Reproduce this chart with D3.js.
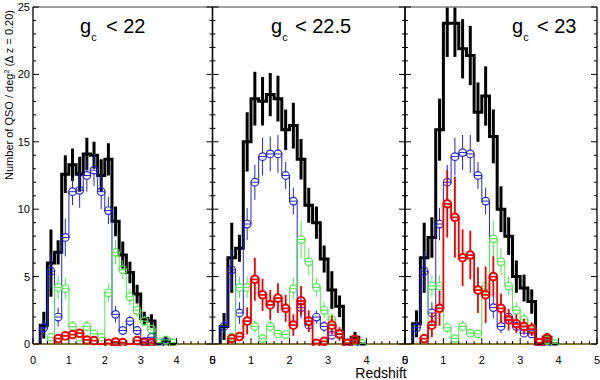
<!DOCTYPE html>
<html>
<head>
<meta charset="utf-8">
<script src="https://cdn.jsdelivr.net/npm/d3@7"></script>
<style>
  body { margin: 0; background: #fff; }
  text { font-family: "Liberation Sans", Helvetica, Arial, sans-serif; }
</style>
</head>
<body>
<div id="app"></div>
<script>
// bin centres, dz = 0.2
const zMid = [0.3, 0.5, 0.7, 0.9, 1.1, 1.3, 1.5, 1.7, 1.9, 2.1, 2.3, 2.5, 2.7, 2.9, 3.1, 3.3, 3.5, 3.7, 3.9];
const magLimits = ["22", "22.5", "23"];
const xTicks = [0, 1, 2, 3, 4, 5];
const yTicks = [0, 5, 10, 15, 20, 25];

// g < 22
const all22 = [1.4, 6.0, 6.8, 12.6, 13.3, 12.6, 14.1, 14.0, 12.5, 13.7, 9.1, 6.6, 5.3, 3.7, 1.9, 1.7, 0, 0.3, 0];
const all22Err = [1.0, 2.5, 0.9, 1.4, 1.2, 1.3, 1.2, 1.0, 1.2, 1.2, 1.1, 1.0, 0.8, 0.7, 0.5, 0.5, 0, 0.3, 0];
const blue22 = [1.2, 5.4, 2.0, 7.9, 11.3, 11.4, 12.5, 12.9, 11.3, 9.9, 2.2, 1.0, 1.7, 1.0, 0.2, 0.5, null, 0.1, null];
const blue22Err = [0.6, 1.3, 0.7, 1.4, 1.0, 1.3, 1.2, 1.2, 1.3, 1.0, 0.6, 0.3, 0.4, 0.3, 0.2, 0.2, 0, 0.2, 0];
const green22 = [null, 0.5, 4.2, 4.1, 1.3, 0.5, 1.3, 0.75, 0.5, 3.8, 6.8, 5.5, 3.5, 2.5, 1.7, 1.1, 0.1, 0.3, 0.1];
const green22Err = [0, 0.3, 0.9, 0.8, 0.4, 0.3, 0.4, 0.3, 0.3, 0.7, 0.9, 0.7, 0.6, 0.5, 0.4, 0.3, 0.1, 0.2, 0.1];
const red22 = [null, null, 0.4, 0.6, 0.7, 0.8, 0.3, 0.25, null, 0.05, 0.15, 0.1, null, 0.25, 0.1, 0.1, null, null, null];
const red22Err = [0, 0, 0.2, 0.2, 0.3, 0.3, 0.2, 0.2, 0, 0.1, 0.1, 0.1, 0, 0.2, 0.1, 0.1, 0, 0, 0];

// g < 22.5
const all225 = [1.3, 6.4, 7.1, 15.0, 18.2, 18.0, 18.5, 18.2, 15.9, 16.2, 13.7, 10.3, 9.0, 6.3, 4.0, 2.8, 0, 0.5, 0];
const all225Err = [1.0, 2.6, 1.0, 2.2, 2.0, 1.8, 1.6, 1.7, 1.5, 1.7, 1.5, 1.3, 1.2, 1.0, 1.4, 0.8, 0, 0.4, 0];
const blue225 = [1.3, 5.5, 2.3, 8.9, 12.0, 13.9, 14.1, 14.1, 12.5, 10.6, 2.7, 1.4, 2.0, 1.3, 0.65, 0.7, null, 0.1, null];
const blue225Err = [0.5, 1.5, 0.8, 1.2, 1.3, 1.4, 1.3, 1.4, 1.0, 1.0, 0.8, 0.5, 0.5, 0.4, 0.3, 0.3, 0, 0.1, 0];
const green225 = [null, 0.5, 4.2, 4.2, 1.3, 0.4, 1.3, 0.75, 0.7, 4.1, 7.75, 6.1, 4.2, 2.5, 1.8, 0.8, 0.1, 0.3, 0.05];
const green225Err = [0, 0.3, 0.8, 0.8, 0.4, 0.3, 0.4, 0.3, 0.3, 0.8, 1.4, 1.0, 0.7, 0.6, 0.5, 0.3, 0.1, 0.2, 0.1];
const red225 = [null, 0.4, 0.55, 1.7, 4.8, 3.65, 2.9, 3.4, 2.65, 1.4, 3.2, 1.7, 0.05, 0.2, 1.4, 0.75, 0.05, 0.35, null];
const red225Err = [0, 0.3, 0.3, 1.0, 1.6, 1.2, 1.1, 1.1, 1.0, 0.8, 1.1, 0.8, 0.1, 0.2, 0.7, 0.5, 0.1, 0.3, 0];

// g < 23
const all23 = [1.5, 6.4, 7.9, 15.9, 23.8, 23.8, 21.9, 21.4, 17.2, 18.4, 15.4, 10.0, 8.0, 5.0, 4.15, 3.15, 0, 0.5, 0];
const all23Err = [1.0, 2.6, 1.5, 2.3, 2.5, 2.5, 2.2, 2.2, 2.2, 2.2, 2.0, 1.7, 1.4, 1.2, 1.0, 0.9, 0, 0.3, 0];
const blue23 = [1.2, 5.4, 2.3, 8.9, 12.0, 13.9, 14.2, 14.1, 12.5, 10.6, 2.7, 1.3, 2.0, 1.3, 0.8, 0.75, null, 0.1, null];
const blue23Err = [0.5, 1.5, 0.8, 1.2, 1.3, 1.4, 1.3, 1.4, 1.0, 1.0, 0.8, 0.5, 0.5, 0.4, 0.3, 0.3, 0, 0.1, 0];
const green23 = [null, 0.4, 4.3, 4.3, 1.2, 0.4, 1.3, 0.8, 0.75, 4.3, 7.8, 6.1, 4.3, 2.5, 1.8, 1.2, 0.1, 0.3, 0.05];
const green23Err = [0, 0.3, 0.8, 0.8, 0.4, 0.3, 0.4, 0.3, 0.3, 0.8, 1.4, 1.0, 0.7, 0.6, 0.5, 0.3, 0.1, 0.2, 0.1];
const red23 = [null, 0.4, 1.4, 2.65, 10.4, 9.4, 6.4, 6.6, 4.0, 3.65, 5.0, 2.65, 1.8, 1.5, 1.3, 1.1, 0.1, 0.45, null];
const red23Err = [0, 0.3, 0.9, 1.3, 2.5, 3.0, 2.1, 1.8, 1.7, 2.1, 1.5, 1.1, 0.8, 0.7, 0.6, 0.5, 0.1, 0.3, 0];

const width = 600, height = 380;
const plotTop = 7, plotBottom = 344;
const radius = 3.8;
const panels = [
  { left: 33, right: 212.5, all: all22, allErr: all22Err, blue: blue22, blueErr: blue22Err, green: green22, greenErr: green22Err, red: red22, redErr: red22Err, tx: [80, 106] },
  { left: 212.5, right: 405, all: all225, allErr: all225Err, blue: blue225, blueErr: blue225Err, green: green225, greenErr: green225Err, red: red225, redErr: red225Err, tx: [271, 295] },
  { left: 405, right: 597, all: all23, allErr: all23Err, blue: blue23, blueErr: blue23Err, green: green23, greenErr: green23Err, red: red23, redErr: red23Err, tx: [512, 537] }
];

const svg = d3.select("#app").append("svg")
  .attr("width", width)
  .attr("height", height)
  .attr("style", "background-color:#ffffff");

const y = d3.scaleLinear().domain([0, 25]).range([plotBottom, plotTop]);

function drawSeries(g, x, vals, errs, color, lw, circles) {
  let first = vals.findIndex(v => v !== null);
  let last = vals.length - 1;
  while (vals[last] === null) last--;
  let pts = [[zMid[first] - 0.1, 0]];
  for (let i = first; i <= last; i++) pts.push([zMid[i] - 0.1, vals[i] || 0]);
  pts.push([zMid[last] + 0.1, vals[last] || 0]);
  pts.push([zMid[last] + 0.1, 0]);

  g.append("path")
    .datum(pts)
    .attr("d", d3.line().curve(d3.curveStepAfter).x(d => x(d[0])).y(d => y(d[1])))
    .attr("fill", "none")
    .attr("stroke", color)
    .attr("stroke-width", lw);

  // error bars; with symbols they stop at the circle edge
  const gap = circles ? radius : 0;
  let segs = [];
  d3.range(vals.length).forEach(i => {
    if (vals[i] === null || !(errs[i] > 0)) return;
    const cy = y(vals[i]);
    const up = y(vals[i] + errs[i]), dn = y(vals[i] - errs[i]);
    if (cy - gap > up) segs.push([i, up, cy - gap]);
    if (cy + gap < dn) segs.push([i, cy + gap, dn]);
  });
  g.append("g")
    .selectAll("line")
    .data(segs)
    .enter()
    .append("line")
    .attr("x1", d => x(zMid[d[0]]))
    .attr("x2", d => x(zMid[d[0]]))
    .attr("y1", d => d[1])
    .attr("y2", d => d[2])
    .attr("stroke", color)
    .attr("stroke-width", lw);

  if (circles) {
    g.append("g")
      .selectAll("circle")
      .data(d3.range(vals.length).filter(i => vals[i] !== null))
      .enter()
      .append("circle")
      .attr("cx", i => x(zMid[i]))
      .attr("cy", i => y(vals[i]))
      .attr("r", radius)
      .attr("fill", "none")
      .attr("stroke", color)
      .attr("stroke-width", lw + 0.2);
  }
}

panels.forEach((p, k) => {
  const x = d3.scaleLinear().domain([0, 5]).range([p.left, p.right]);

  svg.append("clipPath").attr("id", "clip" + k)
    .append("rect")
    .attr("x", p.left).attr("y", plotTop)
    .attr("width", p.right - p.left).attr("height", plotBottom - plotTop + 2);

  const g = svg.append("g").attr("clip-path", "url(#clip" + k + ")");

  // baseline
  g.append("line")
    .attr("x1", x(0)).attr("x2", x(5))
    .attr("y1", y(0)).attr("y2", y(0))
    .attr("stroke", "#8a7636")
    .attr("stroke-width", 2.2);

  drawSeries(g, x, p.all, p.allErr, "#000000", 3, false);
  drawSeries(g, x, p.blue, p.blueErr, "#2323d8", 1, true);
  drawSeries(g, x, p.green, p.greenErr, "#4fe84f", 1, true);
  drawSeries(g, x, p.red, p.redErr, "#f00000", 1.8, true);

  // frame
  const frame = svg.append("g");
  frame.append("line").attr("x1", p.left).attr("x2", p.right).attr("y1", plotTop).attr("y2", plotTop)
    .attr("stroke", "#808080").attr("stroke-width", 1.5);
  frame.append("line").attr("x1", p.left).attr("x2", p.left).attr("y1", plotTop).attr("y2", plotBottom)
    .attr("stroke", "#000").attr("stroke-width", 1.3);
  frame.append("line").attr("x1", p.right).attr("x2", p.right).attr("y1", plotTop).attr("y2", plotBottom)
    .attr("stroke", "#000").attr("stroke-width", 1.3);

  // y ticks on both sides
  const yMinor = d3.range(0, 26, 1);
  ["left", "right"].forEach(side => {
    const sx = side === "left" ? p.left : p.right;
    const dir = side === "left" ? 1 : -1;
    frame.append("g")
      .selectAll("line")
      .data(yMinor)
      .enter()
      .append("line")
      .attr("x1", sx)
      .attr("x2", d => sx + dir * (d % 5 === 0 ? 6 : 3))
      .attr("y1", d => y(d))
      .attr("y2", d => y(d))
      .attr("stroke", "#000")
      .attr("stroke-width", 1);
  });

  // x ticks
  const xMinor = d3.range(0, 26).map(d => d / 5);
  frame.append("g")
    .selectAll("line")
    .data(xMinor)
    .enter()
    .append("line")
    .attr("x1", d => x(d))
    .attr("x2", d => x(d))
    .attr("y1", plotBottom)
    .attr("y2", (d, i) => plotBottom - (i % 5 === 0 ? 6 : 3))
    .attr("stroke", "#000")
    .attr("stroke-width", 1);

  frame.append("g")
    .selectAll("text")
    .data(xTicks)
    .enter()
    .append("text")
    .attr("x", d => x(d))
    .attr("y", 364)
    .attr("text-anchor", "middle")
    .attr("font-size", 11)
    .text(d => d);

  // title
  const t = svg.append("text").attr("font-size", 20).attr("y", 33);
  t.append("tspan").attr("x", p.tx[0]).text("g");
  t.append("tspan").attr("font-size", 11).attr("dy", 8).text("c");
  t.append("tspan").attr("x", p.tx[1]).attr("dy", -8).text("< " + magLimits[k]);

  if (k === 0) {
    svg.append("g")
      .selectAll("text")
      .data(yTicks)
      .enter()
      .append("text")
      .attr("x", 30)
      .attr("y", d => y(d) + 4)
      .attr("text-anchor", "end")
      .attr("font-size", 11)
      .text(d => d);
  }
});

// axis titles
svg.append("text")
  .attr("x", 381)
  .attr("y", 378)
  .attr("text-anchor", "middle")
  .attr("font-size", 14)
  .text("Redshift");

const yl = svg.append("text")
  .attr("transform", "translate(13,95) rotate(-90)")
  .attr("text-anchor", "middle")
  .attr("font-size", 11);
yl.append("tspan").text("Number of QSO / deg");
yl.append("tspan").attr("font-size", 7).attr("dy", -4).text("2");
yl.append("tspan").attr("dy", 4).text(" (\u0394 z = 0.20)");
</script>
</body>
</html>
